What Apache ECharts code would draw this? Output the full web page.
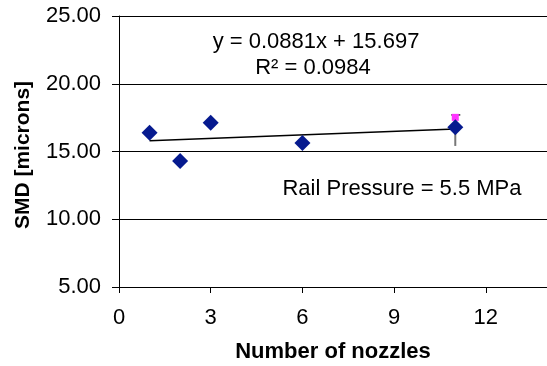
<!DOCTYPE html>
<html>
<head>
<meta charset="utf-8">
<script src="https://cdn.jsdelivr.net/npm/echarts@6/dist/echarts.min.js"></script>
<style>html,body{margin:0;padding:0;background:#fff;}#c{width:547px;height:366px;}</style>
</head>
<body>
<div id="c"></div>
<script>
// Data
var nozzles = [1, 2, 3, 6, 11];
var smd = [16.39, 14.30, 17.13, 15.63, 16.79];
var extraPoint = [[11, 17.52]];
var errorBar = [[11, 15.41, 17.70]]; // x, low, high
var trendSlope = 0.0881;
var trendIntercept = 15.697;
var trendRange = [1, 11];
var xTicks = [0, 3, 6, 9, 12];
var yTicks = [5, 10, 15, 20, 25];

var FONT = '"Liberation Sans", Arial, sans-serif';
var scatterData = nozzles.map(function (x, i) { return [x, smd[i]]; });
var trendData = trendRange.map(function (x) { return [x, trendSlope * x + trendIntercept]; });

var chart = echarts.init(document.getElementById('c'), null, { renderer: 'canvas' });
chart.setOption({
  animation: false,
  backgroundColor: '#fff',
  grid: { left: 119, top: 16, width: 430, height: 271, containLabel: false },
  xAxis: {
    type: 'value', min: 0, max: 14, interval: 3,
    axisLine: { show: true, lineStyle: { color: '#000', width: 1 } },
    axisTick: { show: true, length: 6, inside: false, lineStyle: { color: '#000' } },
    axisLabel: { color: '#000', fontSize: 22, fontFamily: FONT, margin: 20,
      showMaxLabel: false,
      formatter: function (v) { return xTicks.indexOf(v) >= 0 ? String(v) : ''; } },
    splitLine: { show: false }
  },
  yAxis: {
    type: 'value', min: 5, max: 25, interval: 5,
    axisLine: { show: true, lineStyle: { color: '#000', width: 1 } },
    axisTick: { show: true, length: 7, inside: false, lineStyle: { color: '#000' } },
    axisLabel: { color: '#000', fontSize: 22, fontFamily: FONT, margin: 18,
      formatter: function (v) { return yTicks.indexOf(v) >= 0 ? v.toFixed(2) : ''; } },
    splitLine: { show: true, lineStyle: { color: '#000', width: 1 } }
  },
  series: [
    {
      type: 'custom',
      renderItem: function (params, api) {
        var x = api.value(0), lo = api.value(1), hi = api.value(2);
        var pLo = api.coord([x, lo]);
        var pHi = api.coord([x, hi]);
        return {
          type: 'group',
          children: [
            { type: 'line', shape: { x1: pLo[0], y1: pLo[1], x2: pHi[0], y2: pHi[1] },
              style: { stroke: '#777', lineWidth: 2 } },
            { type: 'line', shape: { x1: pHi[0] - 4, y1: pHi[1], x2: pHi[0] + 5, y2: pHi[1] },
              style: { stroke: '#333', lineWidth: 1.5 } }
          ]
        };
      },
      data: errorBar,
      z: 1
    },
    {
      type: 'line', data: trendData, symbol: 'none',
      lineStyle: { color: '#000', width: 1.5 }, z: 2
    },
    {
      type: 'scatter', data: extraPoint, symbol: 'rect', symbolSize: 7,
      itemStyle: { color: '#ff33ff', opacity: 1 }, z: 3
    },
    {
      type: 'scatter', data: scatterData, symbol: 'diamond', symbolSize: 16,
      itemStyle: { color: '#061a8f', opacity: 1 }, z: 4
    }
  ],
  graphic: [
    { type: 'text', x: 316, y: 42, style: { text: 'y = 0.0881x + 15.697', fill: '#000', font: '22px ' + FONT, textAlign: 'center', textVerticalAlign: 'middle' } },
    { type: 'text', x: 313, y: 68, style: { text: 'R² = 0.0984', fill: '#000', font: '22px ' + FONT, textAlign: 'center', textVerticalAlign: 'middle' } },
    { type: 'text', x: 402, y: 189, style: { text: 'Rail Pressure = 5.5 MPa', fill: '#000', font: '22px ' + FONT, textAlign: 'center', textVerticalAlign: 'middle' } },
    { type: 'text', x: 333, y: 352, style: { text: 'Number of nozzles', fill: '#000', font: 'bold 22px ' + FONT, textAlign: 'center', textVerticalAlign: 'middle' } },
    { type: 'text', x: 23, y: 155, rotation: Math.PI / 2, style: { text: 'SMD [microns]', fill: '#000', font: 'bold 21px ' + FONT, textAlign: 'center', textVerticalAlign: 'middle' } }
  ]
});
</script>
</body>
</html>
